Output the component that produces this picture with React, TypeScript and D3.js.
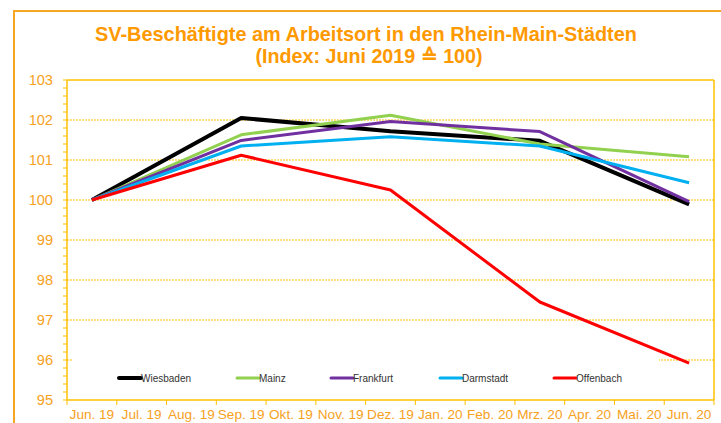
import React from "react";
import * as d3 from "d3";

const months = ["Jun. 19", "Jul. 19", "Aug. 19", "Sep. 19", "Okt. 19", "Nov. 19", "Dez. 19", "Jan. 20", "Feb. 20", "Mrz. 20", "Apr. 20", "Mai. 20", "Jun. 20"];
const dataMonths = ["Jun. 19", "Sep. 19", "Dez. 19", "Mrz. 20", "Jun. 20"];
const seriesNames = ["Wiesbaden", "Mainz", "Frankfurt", "Darmstadt", "Offenbach"];
const wiesbaden = [100, 102.05, 101.72, 101.48, 99.89];
const mainz = [100, 101.63, 102.12, 101.4, 101.08];
const frankfurt = [100, 101.49, 101.96, 101.71, 99.96];
const darmstadt = [100, 101.35, 101.58, 101.35, 100.43];
const offenbach = [100, 101.12, 100.25, 97.45, 95.92];
const yTicks = [95, 96, 97, 98, 99, 100, 101, 102, 103];

const seriesValues = [wiesbaden, mainz, frankfurt, darmstadt, offenbach];
const colors = ["#000000", "#92D050", "#7030A0", "#00B0F0", "#FF0000"];
const widths = [4, 3, 3, 3, 3];
const legendX = [119, 237, 331, 440, 554];

const W = 721, H = 423;
const plotL = 67, plotR = 714, plotT = 80, plotB = 400;
const axisColor = "#FFC000";
const labelColor = "#F7A11C";
const titleColor = "#FF9900";
const font = "'Liberation Sans', Arial, sans-serif";

export default function App() {
  const x = d3.scaleBand<string>().domain(months).range([plotL, plotR]).padding(0);
  const y = d3.scaleLinear().domain([95, 103]).range([plotB, plotT]);
  const cx = (m: string) => (x(m) as number) + x.bandwidth() / 2;
  const line = d3.line<[string, number]>().x(d => cx(d[0])).y(d => y(d[1]));
  const minorTicks = d3.range(95, 103.0001, 0.2);

  return (
    <div style={{ position: "absolute", left: 0, top: 0 }}>
      <svg width={W} height={H} style={{ display: "block", fontFamily: font }}>
        <rect x={0} y={0} width={W} height={H} fill="#fff" />
        <rect x={14} y={11} width={W + 20} height={H + 20} fill="none" stroke="#F5A623" strokeWidth={2} />
        <text x={366} y={41} textAnchor="middle" fontSize={19.9} fontWeight="bold" fill={titleColor}>
          SV-Beschäftigte am Arbeitsort in den Rhein-Main-Städten
        </text>
        <text x={369} y={63} textAnchor="middle" fontSize={19.7} fontWeight="bold" fill={titleColor}>
          (Index: Juni 2019 ≙ 100)
        </text>
        {/* gridlines */}
        {yTicks.filter(t => t > 95 && t < 103).map(t => (
          <line key={"g" + t} x1={plotL} x2={plotR} y1={y(t)} y2={y(t)} stroke={axisColor} strokeWidth={1} strokeDasharray="2,1" />
        ))}
        {/* plot border top & right */}
        <line x1={plotL} x2={plotR} y1={plotT} y2={plotT} stroke={axisColor} strokeWidth={1.5} />
        <line x1={plotR} x2={plotR} y1={plotT} y2={plotB} stroke={axisColor} strokeWidth={1.5} />
        {/* legend background */}
        <rect x={73} y={345} width={586} height={50} fill="#fff" />
        {/* y axis */}
        <line x1={plotL} x2={plotL} y1={plotT} y2={plotB} stroke={axisColor} strokeWidth={1.5} />
        {minorTicks.map((t, i) => (
          <line key={"m" + i} x1={plotL - 4} x2={plotL} y1={y(t)} y2={y(t)} stroke={axisColor} strokeWidth={1} />
        ))}
        {yTicks.map(t => (
          <text key={"yl" + t} x={53} y={y(t) + 5.4} textAnchor="end" fontSize={14.6} fill={labelColor}>{t}</text>
        ))}
        {/* x axis */}
        <line x1={plotL} x2={plotR} y1={plotB} y2={plotB} stroke={axisColor} strokeWidth={1.5} />
        {months.map((m, i) => (
          <line key={"xt" + i} x1={x(m) as number} x2={x(m) as number} y1={plotB} y2={plotB + 5} stroke={axisColor} strokeWidth={1} />
        ))}
        <line x1={plotR} x2={plotR} y1={plotB} y2={plotB + 5} stroke={axisColor} strokeWidth={1} />
        {months.map(m => (
          <text key={"xl" + m} x={cx(m)} y={418.5} textAnchor="middle" fontSize={13.6} fill={labelColor}>{m}</text>
        ))}
        {/* series */}
        {seriesValues.map((vals, i) => (
          <path key={"s" + i}
            d={line(vals.map((v, j) => [dataMonths[j], v] as [string, number])) as string}
            fill="none" stroke={colors[i]} strokeWidth={widths[i]} strokeLinejoin="round" />
        ))}
        {/* legend */}
        {seriesNames.map((n, i) => (
          <g key={"lg" + n}>
            <line x1={legendX[i]} x2={legendX[i] + 22} y1={378} y2={378} stroke={colors[i]} strokeWidth={widths[i]} strokeLinecap="round" />
            <text x={legendX[i] + 22} y={381.5} fontSize={10} fill="#333">{n}</text>
          </g>
        ))}
      </svg>
    </div>
  );
}
